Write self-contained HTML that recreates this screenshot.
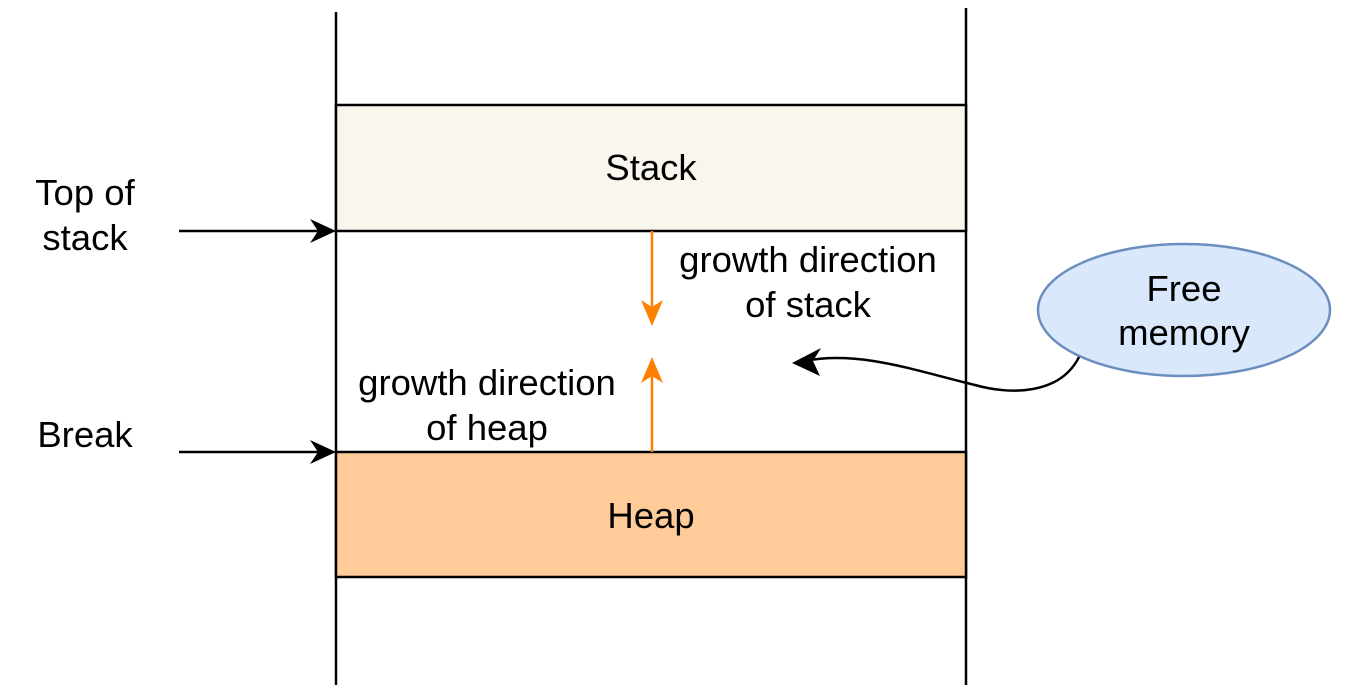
<!DOCTYPE html>
<html><head><style>body{margin:0;background:#fff}</style></head><body>
<svg width="1345" height="685" xmlns="http://www.w3.org/2000/svg" font-family="Liberation Sans, Arial, sans-serif" font-size="36.5">
<line x1="336" y1="12" x2="336" y2="685" stroke="#000" stroke-width="2.5"/>
<line x1="966" y1="8" x2="966" y2="685" stroke="#000" stroke-width="2.5"/>
<rect x="336" y="105" width="630" height="126" fill="#f9f7ed" stroke="#000" stroke-width="2.5"/>
<rect x="336" y="452" width="630" height="125" fill="#ffcc99" stroke="#000" stroke-width="2.5"/>
<text x="651" y="180" text-anchor="middle">Stack</text>
<text x="651" y="528" text-anchor="middle">Heap</text>
<text x="85" y="205" text-anchor="middle">Top of</text>
<text x="85" y="250" text-anchor="middle">stack</text>
<text x="85" y="447" text-anchor="middle">Break</text>
<text x="808" y="272" text-anchor="middle">growth direction</text>
<text x="808" y="317" text-anchor="middle">of stack</text>
<text x="487" y="395" text-anchor="middle">growth direction</text>
<text x="487" y="440" text-anchor="middle">of heap</text>
<line x1="179" y1="231" x2="326" y2="231" stroke="#000" stroke-width="2.5"/>
<path d="M336,231 L310,219 L318,231 L310,243 Z" fill="#000"/>
<line x1="179" y1="452" x2="326" y2="452" stroke="#000" stroke-width="2.5"/>
<path d="M336,452 L310,440 L318,452 L310,464 Z" fill="#000"/>
<line x1="652" y1="231" x2="652" y2="312" stroke="#ff8000" stroke-width="2.5"/>
<path d="M652,326 L641,300 L652,307 L663,300 Z" fill="#ff8000"/>
<line x1="652" y1="452" x2="652" y2="372" stroke="#ff8000" stroke-width="2.5"/>
<path d="M652,357 L641,383 L652,376 L663,383 Z" fill="#ff8000"/>
<ellipse cx="1184" cy="310" rx="146" ry="66" fill="#dae8fc" stroke="#6c8ebf" stroke-width="2.5"/>
<text x="1184" y="301" text-anchor="middle">Free</text>
<text x="1184" y="345" text-anchor="middle">memory</text>
<path d="M1079,357 C1060,395 1010,395 975,385 C920,372 860,350 805,361" fill="none" stroke="#000" stroke-width="2.5"/>
<path d="M792,363 L821,348 L813,361 L820,376 Z" fill="#000"/>
</svg>
</body></html>
